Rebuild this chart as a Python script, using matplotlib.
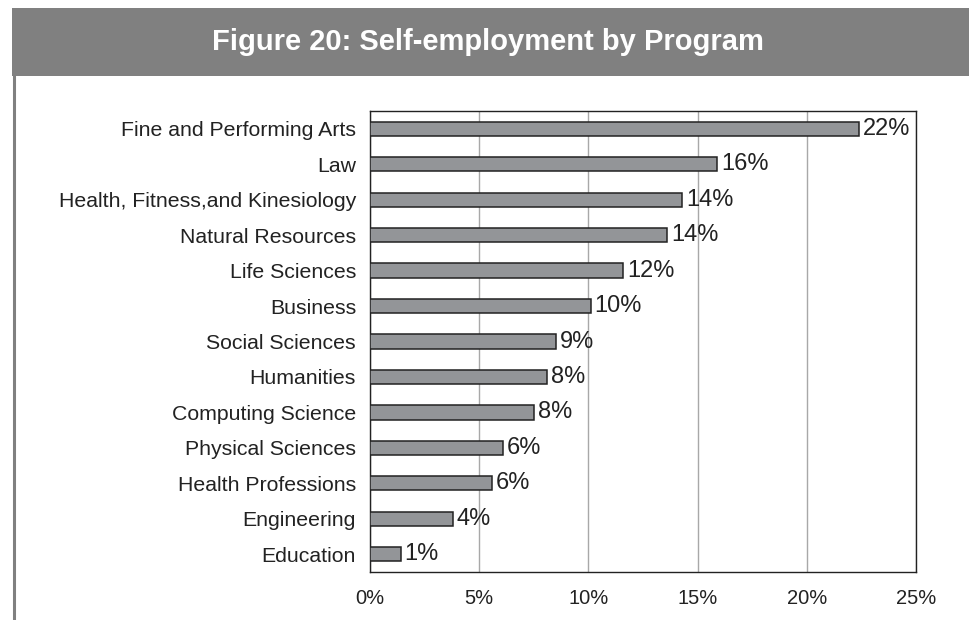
import matplotlib.pyplot as plt
from matplotlib.patches import Rectangle

# data (top to bottom)
programs = ['Fine and Performing Arts', 'Law', 'Health, Fitness,and Kinesiology',
            'Natural Resources', 'Life Sciences', 'Business', 'Social Sciences',
            'Humanities', 'Computing Science', 'Physical Sciences',
            'Health Professions', 'Engineering', 'Education']
shares = [22.4, 15.9, 14.3, 13.6, 11.6, 10.1, 8.5, 8.1, 7.5, 6.1, 5.6, 3.8, 1.4]
share_labels = ['22%', '16%', '14%', '14%', '12%', '10%', '9%', '8%', '8%',
                '6%', '6%', '4%', '1%']
xticks = [0, 5, 10, 15, 20, 25]

plt.rcParams['font.family'] = ['Liberation Sans', 'DejaVu Sans']

W, H = 970, 620
fig = plt.figure(figsize=(W / 100, H / 100), dpi=100)

# title banner and left border line
fig.patches.append(Rectangle((12 / W, 1 - 76 / H), 1, 68 / H,
                             transform=fig.transFigure, facecolor='#808080',
                             edgecolor='none', zorder=0))
fig.lines.append(plt.Line2D([13.5 / W, 13.5 / W], [0, 1 - 76 / H],
                            transform=fig.transFigure, color='#808080', lw=2.2))
fig.text(0.503, 1 - 41.5 / H, 'Figure 20: Self-employment by Program',
         ha='center', va='center', color='white', fontsize=21, fontweight='bold')

ax = fig.add_axes([370 / W, 1 - 572 / H, (916 - 370) / W, (572 - 111) / H])
ypos = list(range(len(programs)))[::-1]
ax.barh(ypos, shares, height=0.40, color='#939598', edgecolor='#222222',
        linewidth=1.1, zorder=3)
for y, v, lab in zip(ypos, shares, share_labels):
    ax.text(v + 0.18, y, lab, va='center', ha='left', fontsize=17, color='#222222')

ax.set_xlim(0, 25)
ax.set_ylim(-0.5, len(programs) - 0.5)
ax.set_xticks(xticks)
ax.set_xticklabels([f'{t}%' for t in xticks], fontsize=14.5, color='#222222')
ax.set_yticks(ypos)
ax.set_yticklabels(programs, fontsize=15.3, color='#222222')
ax.tick_params(axis='y', length=0, pad=10)
ax.tick_params(axis='x', length=0, pad=12)
ax.grid(axis='x', color='#a8a8a8', linewidth=1, zorder=0)
for s in ax.spines.values():
    s.set_color('#222222')
    s.set_linewidth(1)

fig.savefig('out.png', dpi=100)
